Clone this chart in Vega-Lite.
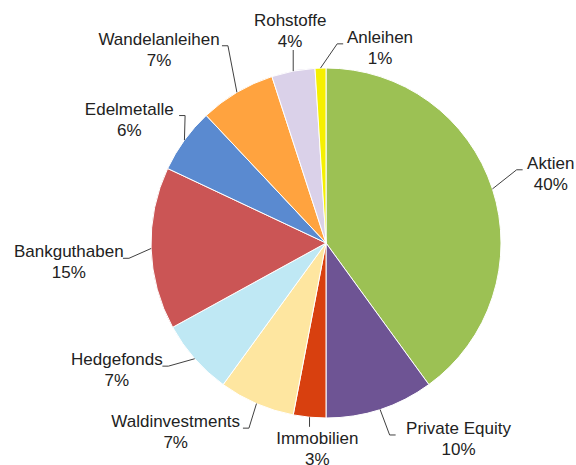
{
  "$schema": "https://vega.github.io/schema/vega-lite/v6.json",
  "autosize": {"type": "none"},
  "width": 500,
  "height": 446,
  "padding": {"left": 76, "top": 20, "right": 0, "bottom": 0},
  "background": "#ffffff",
  "config": {"view": {"stroke": null}},
  "data": {
    "values": [
      {"idx": 0, "name": "Aktien", "pct": 40},
      {"idx": 1, "name": "Private Equity", "pct": 10},
      {"idx": 2, "name": "Immobilien", "pct": 3},
      {"idx": 3, "name": "Waldinvestments", "pct": 7},
      {"idx": 4, "name": "Hedgefonds", "pct": 7},
      {"idx": 5, "name": "Bankguthaben", "pct": 15},
      {"idx": 6, "name": "Edelmetalle", "pct": 6},
      {"idx": 7, "name": "Wandelanleihen", "pct": 7},
      {"idx": 8, "name": "Rohstoffe", "pct": 4},
      {"idx": 9, "name": "Anleihen", "pct": 1}
    ]
  },
  "transform": [
    {"window": [{"op": "sum", "field": "pct", "as": "cum"}], "sort": [{"field": "idx"}], "frame": [null, 0]},
    {"calculate": "(datum.cum - datum.pct / 2) * PI / 50", "as": "mid"},
    {"calculate": "datum.mid + [1, -16, -3, 15, 10, -2.6, -4, -10.3, 1.2, 17.3][datum.idx] * PI / 180", "as": "la"},
    {"calculate": "[235, 237, 207, 242, 245, 258, 232, 255, 215, 202][datum.idx]", "as": "lr"},
    {"calculate": "175 * sin(datum.mid)", "as": "ex"},
    {"calculate": "-175 * cos(datum.mid)", "as": "ey"},
    {"calculate": "datum.lr * sin(datum.la)", "as": "lx"},
    {"calculate": "-datum.lr * cos(datum.la)", "as": "ly"},
    {"calculate": "abs(sin(datum.la)) < 0.2", "as": "vert"},
    {"calculate": "datum.lx > 0 ? 1 : -1", "as": "side"},
    {"calculate": "length(datum.name) * 4.35", "as": "hw"},
    {"calculate": "datum.vert ? datum.ex : datum.lx - datum.side * (datum.hw + 2)", "as": "sx"},
    {"calculate": "datum.vert ? (datum.ly < 0 ? datum.ly + 19 : datum.ly - 23) : datum.ly - 4.5", "as": "sy"},
    {"calculate": "datum.vert ? datum.ex : datum.sx - datum.side * 6", "as": "bx"},
    {"calculate": "datum.name + '\\n' + datum.pct + '%'", "as": "label"}
  ],
  "layer": [
    {
      "mark": {"type": "arc", "outerRadius": 175, "stroke": "#ffffff", "strokeWidth": 1},
      "encoding": {
        "theta": {"field": "pct", "type": "quantitative", "stack": true},
        "order": {"field": "idx", "type": "quantitative"},
        "color": {
          "field": "name",
          "type": "nominal",
          "legend": null,
          "scale": {
            "domain": ["Aktien", "Private Equity", "Immobilien", "Waldinvestments", "Hedgefonds", "Bankguthaben", "Edelmetalle", "Wandelanleihen", "Rohstoffe", "Anleihen"],
            "range": ["#9CC154", "#6E5494", "#D8400F", "#FEE6A0", "#BFE8F4", "#CB5555", "#5A8AD0", "#FFA33F", "#DAD1E9", "#F5F000"]
          }
        }
      }
    },
    {
      "mark": {"type": "rule", "color": "#404040", "strokeWidth": 1},
      "encoding": {
        "x": {"field": "ex", "type": "quantitative", "scale": {"domain": [-250, 250], "nice": false, "zero": false}, "axis": null},
        "y": {"field": "ey", "type": "quantitative", "scale": {"domain": [-223, 223], "nice": false, "zero": false, "reverse": true}, "axis": null},
        "x2": {"field": "bx"},
        "y2": {"field": "sy"}
      }
    },
    {
      "mark": {"type": "rule", "color": "#404040", "strokeWidth": 1},
      "encoding": {
        "x": {"field": "bx", "type": "quantitative", "scale": {"domain": [-250, 250], "nice": false, "zero": false}, "axis": null},
        "y": {"field": "sy", "type": "quantitative", "scale": {"domain": [-223, 223], "nice": false, "zero": false, "reverse": true}, "axis": null},
        "x2": {"field": "sx"},
        "y2": {"field": "sy"}
      }
    },
    {
      "mark": {"type": "text", "align": "center", "baseline": "middle", "dy": -10.5, "lineBreak": "\n", "lineHeight": 21, "fontSize": 17, "font": "Liberation Sans, Arial, sans-serif", "color": "#222222"},
      "encoding": {
        "x": {"field": "lx", "type": "quantitative", "scale": {"domain": [-250, 250], "nice": false, "zero": false}, "axis": null},
        "y": {"field": "ly", "type": "quantitative", "scale": {"domain": [-223, 223], "nice": false, "zero": false, "reverse": true}, "axis": null},
        "text": {"field": "label", "type": "nominal"}
      }
    }
  ]
}
